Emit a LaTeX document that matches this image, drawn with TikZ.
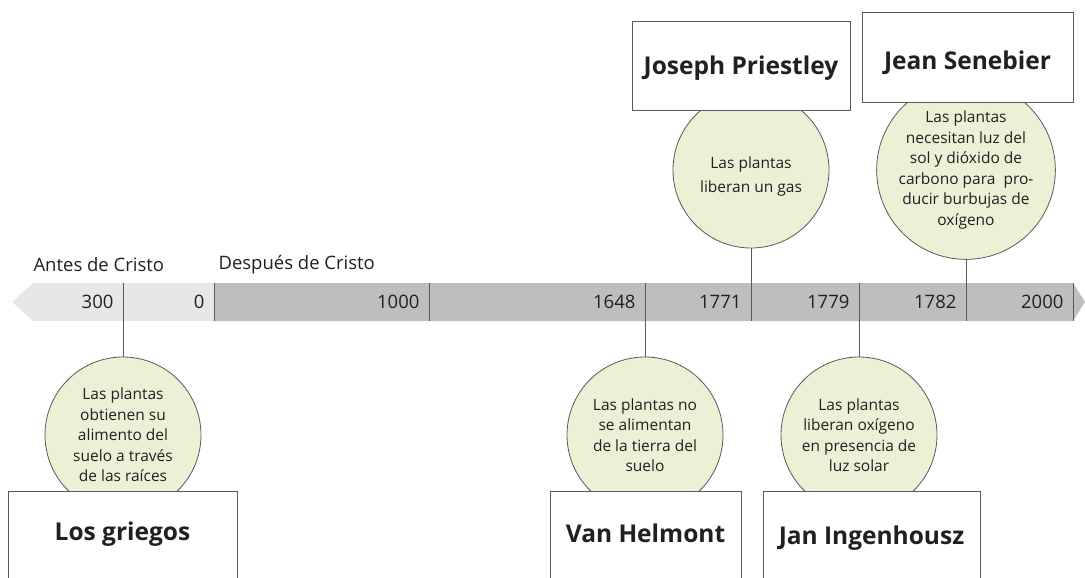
\documentclass[tikz,border=0pt]{standalone}
\usepackage{fontspec}
\setmainfont{Open Sans}
\usetikzlibrary{positioning}

\definecolor{barlight}{HTML}{E6E7E8}
\definecolor{bardark}{HTML}{BCBEC0}
\definecolor{ideafill}{HTML}{ECF1D6}
\definecolor{tickgray}{HTML}{58595B}
\definecolor{inkgray}{HTML}{231F20}

\begin{document}
\begin{tikzpicture}[x=1pt,y=-1pt,
    idea/.style={circle,draw=tickgray,line width=0.8pt,fill=ideafill,minimum size=156pt,
      inner sep=0pt,align=center,text=inkgray,font=\fontsize{15.5}{20.5}\selectfont},
    namebox/.style={draw=tickgray,line width=0.8pt,fill=white,inner sep=0pt,text=inkgray,
      font=\fontsize{24.5}{28}\selectfont\bfseries,text depth=0pt},
    lowbox/.style={namebox,anchor=north,minimum height=100pt,text depth=10pt},
    yearlabel/.style={anchor=east,text=inkgray,font=\fontsize{18.5}{22}\selectfont},
    eralabel/.style={anchor=west,text=inkgray,font=\fontsize{18.5}{22}\selectfont},
    link/.style={draw=tickgray,line width=0.8pt}]
    \useasboundingbox (0,0) rectangle (1085,578);

    % The time bar
    \fill[barlight] (12,302) -- (33,283) -- (214,283) -- (214,321) -- (33,321) -- cycle;
    \fill[bardark] (214,283) -- (1073,283) -- (1085,302) -- (1073,321) -- (214,321) -- cycle;

    \node[eralabel] (antes) at (30,265) {Antes de Cristo};
    \node[eralabel] (despues) at (215,265) {Después de Cristo};

    % Ticks and years
    \foreach \x/\yr in {123/300, 214/0, 429/1000, 645/1648, 751/1771, 859/1779, 966/1782, 1073/2000}
    {
        \coordinate (top\yr) at (\x,283);
        \coordinate (bot\yr) at (\x,321);
        \draw[link] (top\yr) -- (bot\yr);
        \node[yearlabel] (y\yr) at (\x-6,302) {\yr};
    }

    % Ideas below the bar
    \node[idea] (raices) at (123,435) {Las plantas\\obtienen su\\alimento del\\suelo a través\\de las raíces};
    \node[idea] (tierra) at (645,435) {Las plantas no\\se alimentan\\de la tierra del\\suelo};
    \node[idea] (oxigeno) at (859,435) {Las plantas\\liberan oxígeno\\en presencia de\\luz solar};

    % Ideas above the bar
    \node[idea] (gas) at (751,170) {\mbox{}\\[4pt]Las plantas\\[3pt]liberan un gas};
    \node[idea] (burbujas) at (966,170) {Las plantas\\necesitan luz del\\sol y dióxido de\\carbono para \ pro-\\ducir burbujas de\\oxígeno};

    \draw[link] (raices.north) -- (bot300);
    \draw[link] (tierra.north) -- (bot1648);
    \draw[link] (oxigeno.north) -- (bot1779);
    \draw[link] (gas.south) -- (top1771);
    \draw[link] (burbujas.south) -- (top1782);

    % Names
    \node[lowbox,minimum width=229pt,text height=8pt] (griegos) at (122.5,491) {Los griegos};
    \node[lowbox,minimum width=191pt,text height=12pt] (helmont) at (645.5,491) {Van Helmont};
    \node[lowbox,minimum width=217pt,text height=16pt] (ingenhousz) at (871.5,491) {Jan Ingenhousz};
    \node[namebox,minimum width=218pt,minimum height=89pt,text height=19pt] (priestley) at (741,65.5) {Joseph Priestley};
    \node[namebox,minimum width=211pt,minimum height=90pt,text height=25pt] (senebier) at (967.5,57) {Jean Senebier};
\end{tikzpicture}
\end{document}
